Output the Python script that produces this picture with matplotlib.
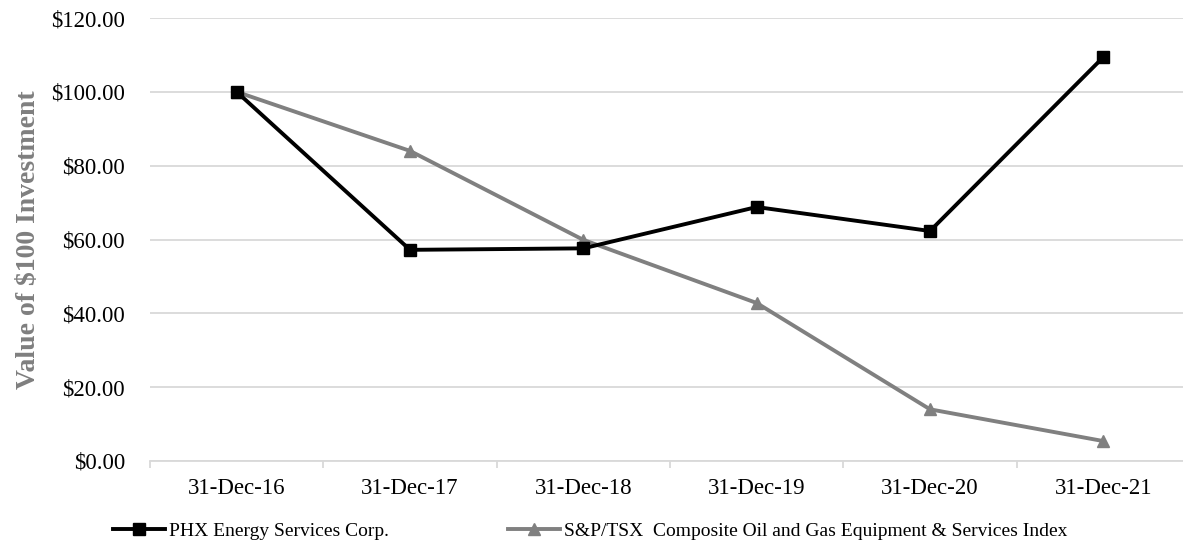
import matplotlib.pyplot as plt
import numpy as np

dates = ['31-Dec-16', '31-Dec-17', '31-Dec-18', '31-Dec-19', '31-Dec-20', '31-Dec-21']
phx = [100.0, 57.2, 57.6, 68.8, 62.3, 109.4]
index = [100.0, 84.0, 59.9, 42.8, 14.0, 5.4]
yticks = [0, 20, 40, 60, 80, 100, 120]

plt.rcParams['font.family'] = ['Liberation Serif', 'DejaVu Serif']

fig = plt.figure(figsize=(11.83, 5.44), dpi=100)
ax = fig.add_axes([150 / 1183, 1 - 461 / 544, 1040 / 1183, (461 - 18) / 544])

x = np.arange(len(dates))
ax.plot(x, phx, color='black', lw=2.8, marker='s', ms=8.5, label='PHX Energy Services Corp.', zorder=4)
ax.plot(x, index, color='#808080', lw=2.8, marker='^', ms=8.5,
        label='S&P/TSX  Composite Oil and Gas Equipment & Services Index', zorder=3)

ax.set_xlim(-0.5, len(dates) - 0.5)
ax.set_ylim(0, 120)
ax.set_yticks(yticks)
ax.set_yticklabels([f'${v:.2f}' for v in yticks], fontsize=16.5)
ax.set_xticks(x)
ax.set_xticklabels(dates, fontsize=16.5)
ax.set_xticks(np.arange(-0.5, len(dates)), minor=True)
ax.tick_params(axis='x', which='major', length=0, pad=12)
ax.tick_params(axis='x', which='minor', length=5, color='#d9d9d9', width=1.3)
ax.tick_params(axis='y', length=0, pad=18)

ax.grid(axis='y', color='#d9d9d9', lw=1.3)
ax.set_axisbelow(True)
for s in ['top', 'right', 'left']:
    ax.spines[s].set_visible(False)
ax.spines['bottom'].set_color('#d9d9d9')
ax.spines['bottom'].set_linewidth(1.3)

ax.set_ylabel('Value of $100 Investment', fontsize=20, fontweight='bold', color='#7f7f7f', labelpad=7)

fig.legend(loc='center', bbox_to_anchor=(590 / 1183, 1 - 531 / 544), ncol=2, frameon=False,
           fontsize=14, handlelength=2.7, handletextpad=0.2, columnspacing=6.1)

fig.savefig('out.png', dpi=100)
